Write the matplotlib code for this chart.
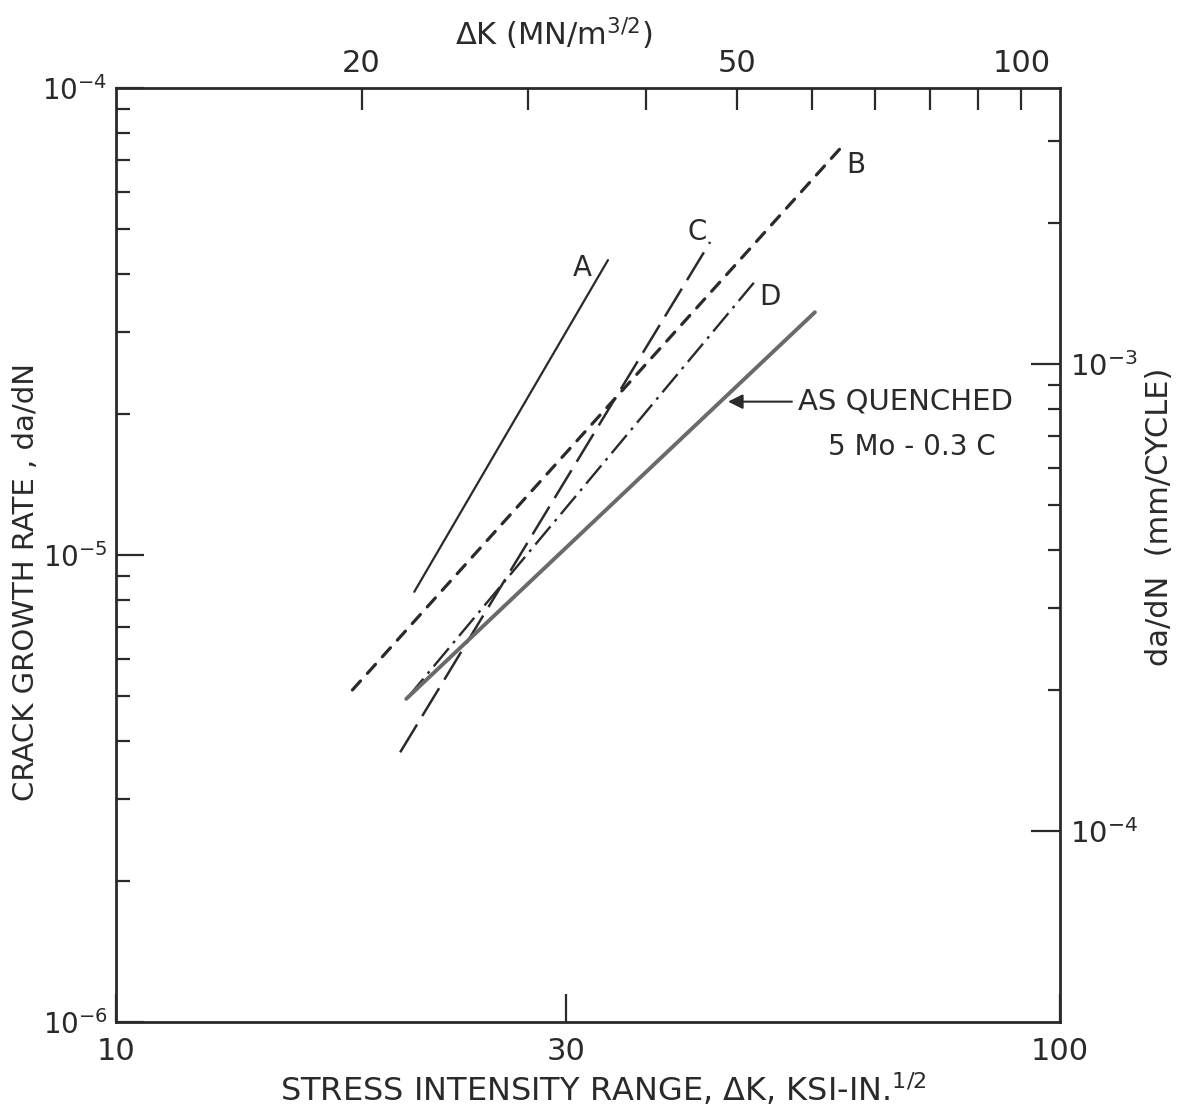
import matplotlib
matplotlib.use("Agg")
import matplotlib.pyplot as plt
from matplotlib.ticker import FixedLocator, FixedFormatter, NullFormatter, NullLocator

plt.rcParams['font.family'] = ['DejaVu Sans']
plt.rcParams['mathtext.fontset'] = 'dejavusans'

# ---------------- data ----------------
# stress intensity range dK (ksi-in^1/2) and crack growth rate da/dN (in/cycle)
dk_A = [20.7, 33.2]
rate_A = [8.34e-6, 4.28e-5]
dk_B = [17.8, 59.2]
rate_B = [5.14e-6, 7.62e-5]
dk_C = [20.0, 42.6]
rate_C = [3.78e-6, 4.68e-5]
dk_D = [20.4, 47.5]
rate_D = [4.97e-6, 3.85e-5]
dk_AQ = [20.3, 55.0]
rate_AQ = [4.92e-6, 3.31e-5]

bottom_ticks = [10, 30, 100]
bottom_labels = ['10', '30', '100']
left_ticks = [1e-6, 1e-5, 1e-4]
left_labels = [r'$\mathregular{10^{-6}}$', r'$\mathregular{10^{-5}}$', r'$\mathregular{10^{-4}}$']
left_minor = [k * 10.0 ** e for e in (-6, -5) for k in range(2, 10)]
top_ticks = [20, 30, 40, 50, 60, 70, 80, 90, 100]
top_labels = ['20', '', '', '50', '', '', '', '', '100']
right_ticks = [1e-4, 1e-3]
right_labels = [r'$\mathregular{10^{-4}}$', r'$\mathregular{10^{-3}}$']
right_minor = [k * 1e-4 for k in range(2, 10)] + [2e-3, 3e-3]

MPA_PER_KSI = 1.0988      # MN/m^3/2 per ksi-in^1/2
RIGHT_FACTOR = 39.0       # right-axis scale as drawn on the original figure

INK = '#2a2a2a'

fig = plt.figure(figsize=(11.82, 11.12), dpi=100)
L, R, T, B = 116, 1060, 88, 1022
W, H = 1182, 1112
ax = fig.add_axes([L / W, 1 - B / H, (R - L) / W, (B - T) / H])
ax.set_xscale('log')
ax.set_yscale('log')
ax.set_xlim(10, 100)
ax.set_ylim(1e-6, 1e-4)

ax.plot(dk_A, rate_A, color=INK, lw=1.6, solid_capstyle='round')
ax.plot(dk_B, rate_B, color=INK, lw=2.3, dashes=(3.8, 3.2), dash_capstyle='round')
ax.plot(dk_C, rate_C, color=INK, lw=1.8, dashes=(13, 4.0))
ax.plot(dk_D, rate_D, color=INK, lw=1.7, dashes=(10, 2.8, 1.2, 2.8))
ax.plot(dk_AQ, rate_AQ, color='#6a6a6a', lw=2.8, solid_capstyle='round')

for s in ax.spines.values():
    s.set_linewidth(2.0)
    s.set_color(INK)

# bottom axis
ax.xaxis.set_major_locator(FixedLocator(bottom_ticks))
ax.xaxis.set_major_formatter(FixedFormatter(bottom_labels))
ax.xaxis.set_minor_locator(NullLocator())
ax.tick_params(axis='x', which='major', direction='in', length=20, width=1.6,
               labelsize=22, pad=11, top=False, color=INK, labelcolor=INK)

# left axis
ax.yaxis.set_major_locator(FixedLocator(left_ticks))
ax.yaxis.set_major_formatter(FixedFormatter(left_labels))
ax.yaxis.set_minor_locator(FixedLocator(left_minor))
ax.yaxis.set_minor_formatter(NullFormatter())
ax.tick_params(axis='y', which='major', direction='in', length=20, width=1.6,
               labelsize=20, pad=6, right=False, color=INK, labelcolor=INK)
ax.tick_params(axis='y', which='minor', direction='in', length=10, width=1.6,
               right=False, color=INK)

# top axis (MN/m^3/2)
secx = ax.secondary_xaxis('top', functions=(lambda k: k * MPA_PER_KSI,
                                             lambda m: m / MPA_PER_KSI))
secx.xaxis.set_major_locator(FixedLocator(top_ticks))
secx.xaxis.set_major_formatter(FixedFormatter(top_labels))
secx.xaxis.set_minor_locator(NullLocator())
secx.tick_params(axis='x', which='major', direction='in', length=16, width=1.6,
                 labelsize=22, pad=7, color=INK, labelcolor=INK)
for s in secx.spines.values():
    s.set_visible(False)

# right axis (mm/cycle)
secy = ax.secondary_yaxis('right', functions=(lambda v: v * RIGHT_FACTOR,
                                               lambda v: v / RIGHT_FACTOR))
secy.yaxis.set_major_locator(FixedLocator(right_ticks))
secy.yaxis.set_major_formatter(FixedFormatter(right_labels))
secy.yaxis.set_minor_locator(FixedLocator(right_minor))
secy.yaxis.set_minor_formatter(NullFormatter())
secy.tick_params(axis='y', which='major', direction='in', length=21, width=1.6,
                 labelsize=21, pad=7, color=INK, labelcolor=INK)
secy.tick_params(axis='y', which='minor', direction='in', length=9, width=1.6, color=INK)
for s in secy.spines.values():
    s.set_visible(False)

# curve labels
lab = dict(fontsize=20, color=INK, ha='center', va='center')
ax.text(31.2, 4.12e-5, 'A', **lab)
ax.text(60.8, 6.84e-5, 'B', **lab)
ax.text(41.3, 4.92e-5, 'C', **lab)
ax.text(49.3, 3.57e-5, 'D', **lab)

ax.annotate('', xy=(44.5, 2.13e-5), xytext=(52.0, 2.13e-5),
            arrowprops=dict(arrowstyle='-|>', color=INK, lw=1.5,
                            mutation_scale=22, shrinkA=0, shrinkB=0))
ax.text(52.8, 2.13e-5, 'AS QUENCHED', fontsize=21, color=INK, ha='left', va='center')
ax.text(69.7, 1.70e-5, '5 Mo - 0.3 C', fontsize=20, color=INK, ha='center', va='center')

# axis titles
fig.text(26 / W, 1 - 582 / H, 'CRACK GROWTH RATE , da/dN', rotation=90,
         ha='center', va='center', fontsize=21, color=INK)
fig.text(1160 / W, 1 - 517 / H, 'da/dN  (mm/CYCLE)', rotation=90,
         ha='center', va='center', fontsize=22, color=INK)
fig.text(603 / W, 1 - 1101 / H,
         r'STRESS INTENSITY RANGE, $\mathregular{\Delta}$K, KSI-IN.$^{\mathregular{1/2}}$',
         ha='center', va='baseline', fontsize=23, color=INK)
fig.text(554 / W, 1 - 45 / H, r'$\mathregular{\Delta}$K (MN/m$^{\mathregular{3/2}}$)',
         ha='center', va='baseline', fontsize=22, color=INK)

fig.savefig('out.png', dpi=100)
